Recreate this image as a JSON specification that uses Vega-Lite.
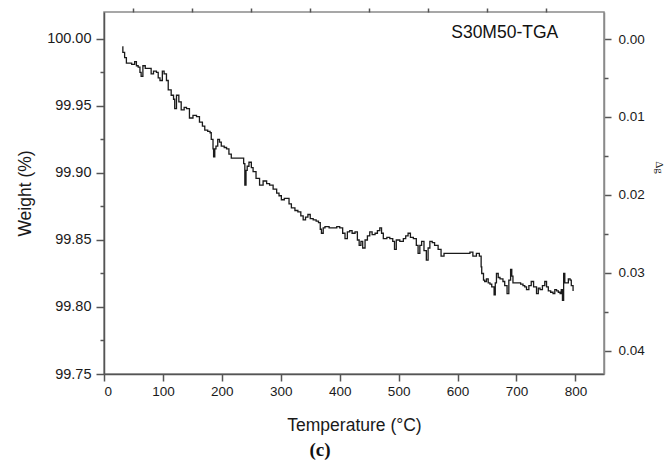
{
  "$schema": "https://vega.github.io/schema/vega-lite/v6.json",
  "autosize": {"type": "none"},
  "width": 500,
  "height": 362,
  "padding": {"left": 104, "top": 12, "right": 61, "bottom": 98},
  "background": "white",
  "title": {"text": "(c)", "orient": "bottom", "anchor": "middle", "frame": "group", "dx": -34, "offset": 7, "font": "Liberation Serif", "fontSize": 19, "fontWeight": "bold", "color": "#111"},
  "data": {"values": [
    {"T":31,"W":99.994},{"T":32,"W":99.990},{"T":35,"W":99.986},{"T":38,"W":99.982},{"T":43,"W":99.982},{"T":47,"W":99.981},{"T":52,"W":99.983},{"T":55,"W":99.980},{"T":58,"W":99.979},{"T":61,"W":99.975},{"T":63,"W":99.972},{"T":66,"W":99.980},{"T":70,"W":99.978},{"T":75,"W":99.978},{"T":80,"W":99.974},{"T":84,"W":99.976},{"T":89,"W":99.975},{"T":92,"W":99.971},{"T":95,"W":99.969},{"T":99,"W":99.976},{"T":102,"W":99.974},{"T":106,"W":99.969},{"T":109,"W":99.962},{"T":114,"W":99.958},{"T":118,"W":99.955},{"T":120,"W":99.948},{"T":123,"W":99.958},{"T":127,"W":99.953},{"T":131,"W":99.947},{"T":136,"W":99.949},{"T":140,"W":99.948},{"T":145,"W":99.941},{"T":151,"W":99.943},{"T":157,"W":99.942},{"T":162,"W":99.938},{"T":167,"W":99.935},{"T":171,"W":99.932},{"T":176,"W":99.931},{"T":180,"W":99.930},{"T":182,"W":99.925},{"T":185,"W":99.918},{"T":186,"W":99.912},{"T":188,"W":99.918},{"T":190,"W":99.920},{"T":193,"W":99.925},{"T":196,"W":99.923},{"T":199,"W":99.920},{"T":204,"W":99.919},{"T":208,"W":99.918},{"T":212,"W":99.914},{"T":216,"W":99.911},{"T":225,"W":99.911},{"T":233,"W":99.911},{"T":237,"W":99.907},{"T":239,"W":99.891},{"T":241,"W":99.902},{"T":243,"W":99.905},{"T":246,"W":99.908},{"T":250,"W":99.904},{"T":253,"W":99.901},{"T":258,"W":99.896},{"T":264,"W":99.891},{"T":270,"W":99.894},{"T":276,"W":99.892},{"T":281,"W":99.891},{"T":287,"W":99.888},{"T":293,"W":99.885},{"T":297,"W":99.883},{"T":301,"W":99.880},{"T":306,"W":99.881},{"T":310,"W":99.881},{"T":314,"W":99.877},{"T":318,"W":99.874},{"T":324,"W":99.872},{"T":329,"W":99.871},{"T":334,"W":99.868},{"T":338,"W":99.865},{"T":342,"W":99.867},{"T":346,"W":99.869},{"T":350,"W":99.866},{"T":355,"W":99.865},{"T":360,"W":99.864},{"T":364,"W":99.863},{"T":367,"W":99.858},{"T":369,"W":99.855},{"T":372,"W":99.859},{"T":375,"W":99.860},{"T":382,"W":99.859},{"T":389,"W":99.859},{"T":395,"W":99.860},{"T":400,"W":99.859},{"T":405,"W":99.855},{"T":409,"W":99.851},{"T":413,"W":99.856},{"T":417,"W":99.857},{"T":421,"W":99.855},{"T":426,"W":99.856},{"T":430,"W":99.850},{"T":433,"W":99.846},{"T":436,"W":99.849},{"T":439,"W":99.844},{"T":443,"W":99.850},{"T":447,"W":99.853},{"T":451,"W":99.856},{"T":455,"W":99.854},{"T":460,"W":99.855},{"T":464,"W":99.857},{"T":468,"W":99.859},{"T":471,"W":99.855},{"T":474,"W":99.851},{"T":480,"W":99.852},{"T":485,"W":99.851},{"T":490,"W":99.849},{"T":493,"W":99.843},{"T":496,"W":99.850},{"T":502,"W":99.849},{"T":508,"W":99.851},{"T":512,"W":99.853},{"T":516,"W":99.855},{"T":520,"W":99.852},{"T":525,"W":99.851},{"T":530,"W":99.846},{"T":533,"W":99.840},{"T":536,"W":99.846},{"T":539,"W":99.849},{"T":543,"W":99.842},{"T":547,"W":99.835},{"T":550,"W":99.844},{"T":553,"W":99.849},{"T":557,"W":99.848},{"T":561,"W":99.846},{"T":567,"W":99.843},{"T":572,"W":99.838},{"T":577,"W":99.840},{"T":581,"W":99.840},{"T":598,"W":99.840},{"T":615,"W":99.840},{"T":621,"W":99.841},{"T":626,"W":99.838},{"T":632,"W":99.840},{"T":637,"W":99.838},{"T":640,"W":99.830},{"T":641,"W":99.825},{"T":644,"W":99.820},{"T":646,"W":99.819},{"T":649,"W":99.821},{"T":652,"W":99.818},{"T":655,"W":99.817},{"T":658,"W":99.815},{"T":662,"W":99.809},{"T":664,"W":99.818},{"T":666,"W":99.825},{"T":669,"W":99.822},{"T":672,"W":99.821},{"T":677,"W":99.819},{"T":680,"W":99.816},{"T":684,"W":99.810},{"T":687,"W":99.820},{"T":690,"W":99.828},{"T":692,"W":99.823},{"T":694,"W":99.818},{"T":699,"W":99.818},{"T":703,"W":99.818},{"T":707,"W":99.817},{"T":711,"W":99.816},{"T":714,"W":99.815},{"T":717,"W":99.813},{"T":721,"W":99.816},{"T":725,"W":99.819},{"T":729,"W":99.815},{"T":734,"W":99.810},{"T":737,"W":99.814},{"T":740,"W":99.813},{"T":744,"W":99.816},{"T":748,"W":99.819},{"T":751,"W":99.815},{"T":754,"W":99.812},{"T":758,"W":99.811},{"T":762,"W":99.810},{"T":765,"W":99.813},{"T":768,"W":99.812},{"T":771,"W":99.811},{"T":774,"W":99.810},{"T":776,"W":99.813},{"T":778,"W":99.805},{"T":780,"W":99.825},{"T":782,"W":99.818},{"T":785,"W":99.818},{"T":788,"W":99.821},{"T":791,"W":99.820},{"T":793,"W":99.816},{"T":796,"W":99.812}
  ]},
  "layer": [
    {
      "mark": {"type": "line", "color": "#1a1a1a", "strokeWidth": 1.3, "interpolate": "step-after"},
      "encoding": {
        "x": {"field": "T", "type": "quantitative", "scale": {"domain": [0, 848.5], "nice": false, "zero": false},
          "axis": {"values": [0,100,200,300,400,500,600,700,800], "format": "d", "labelFontSize": 13.5, "tickSize": 7, "labelPadding": 3, "title": "Temperature (°C)", "titleFontSize": 17.5, "titlePadding": 19}},
        "y": {"field": "W", "type": "quantitative", "scale": {"domain": [99.75, 100.0201], "nice": false, "zero": false},
          "axis": {"orient": "left", "values": [99.75,99.8,99.85,99.9,99.95,100], "format": ".2f", "labelFontSize": 14.5, "tickSize": 8, "labelPadding": 5, "title": "Weight (%)", "titleFontSize": 17.5, "titlePadding": 12}}
      }
    },
    {
      "data": {"values": [{"T": 680, "W": 100.0048, "label": "S30M50-TGA"}]},
      "mark": {"type": "text", "font": "Liberation Sans", "fontSize": 17.5, "align": "center", "baseline": "middle", "color": "#111"},
      "encoding": {
        "x": {"field": "T", "type": "quantitative", "axis": null},
        "y": {"field": "W", "type": "quantitative", "scale": {"domain": [99.75, 100.0201], "nice": false, "zero": false}, "axis": null},
        "text": {"field": "label"}
      }
    },
    {
      "mark": {"type": "point", "opacity": 0},
      "encoding": {
        "x": {"field": "T", "type": "quantitative",
          "axis": {"values": [50,150,250,350,450,550,650,750], "labels": false, "tickSize": 4, "domain": false, "title": null}},
        "y": {"field": "W", "type": "quantitative", "scale": {"domain": [99.75, 100.0201], "nice": false, "zero": false},
          "axis": {"orient": "left", "values": [99.775,99.825,99.875,99.925,99.975], "labels": false, "tickSize": 4, "domain": false, "title": null}}
      }
    },
    {
      "mark": {"type": "point", "opacity": 0},
      "encoding": {
        "y": {"datum": 0, "type": "quantitative", "scale": {"domain": [-0.003465, 0.04299], "reverse": true, "nice": false, "zero": false},
          "axis": {"orient": "right", "values": [0,0.01,0.02,0.03,0.04], "format": ".2f", "labelFontSize": 13.5, "tickSize": 7, "labelPadding": 7, "domainColor": "#8a8a8a", "title": "Δg", "titleAngle": 90, "titleFontSize": 11, "titleFont": "Liberation Serif", "titleY": 155, "titlePadding": 9}}
      }
    },
    {
      "mark": {"type": "point", "opacity": 0},
      "encoding": {
        "y": {"datum": 0, "type": "quantitative", "scale": {"domain": [-0.003465, 0.04299], "reverse": true, "nice": false, "zero": false},
          "axis": {"orient": "right", "values": [0.005,0.015,0.025,0.035], "labels": false, "tickSize": 4, "domain": false, "title": null}}
      }
    }
  ],
  "resolve": {"scale": {"y": "independent"}, "axis": {"x": "independent", "y": "independent"}},
  "config": {
    "view": {"stroke": "#8a8a8a", "strokeWidth": 1.5},
    "axis": {"grid": false, "domainColor": "#555", "tickColor": "#555", "domainWidth": 1.5, "tickWidth": 1.5, "labelFont": "Liberation Sans", "titleFont": "Liberation Sans", "labelColor": "#1a1a1a", "titleColor": "#1a1a1a", "titleFontWeight": "normal"}
  }
}
